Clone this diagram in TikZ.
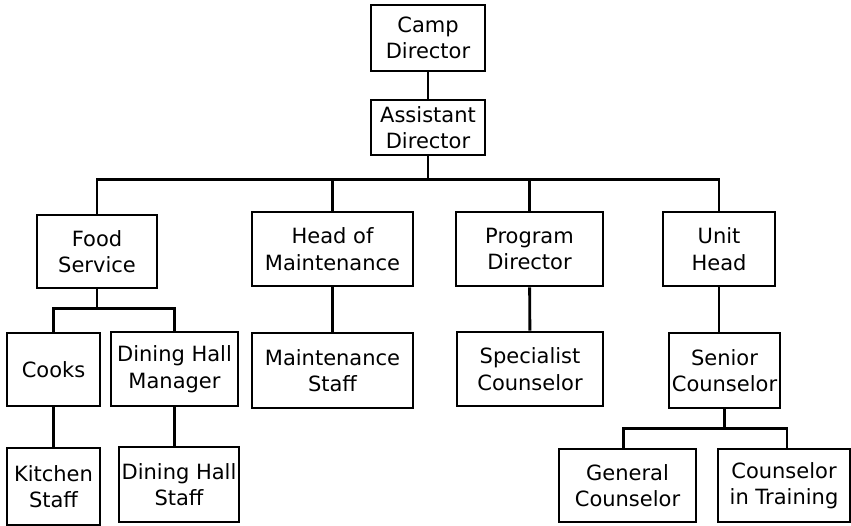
\documentclass[tikz,border=0pt]{standalone}
\usepackage{fontspec}
\setmainfont{DejaVu Sans}
\usepackage{tikz}
\usetikzlibrary{positioning,calc}

\begin{document}
\begin{tikzpicture}[x=1pt,y=-1pt,orgbox/.style={draw,line width=2.9pt,align=center,inner sep=0pt,font=\fontsize{21}{26.5}\selectfont},link/.style={line width=2.9pt}]
\useasboundingbox (0,0) rectangle (851,526);
% top of the tree
\node[orgbox,minimum width=114,minimum height=66] (camp) at (428,38) {Camp\\Director};
\node[orgbox,minimum width=114,minimum height=55] (asst) at (428,127.5) {Assistant\\Director};
% second level
\node[orgbox,minimum width=120,minimum height=73] (food) at (97,251.5) {Food\\Service};
\node[orgbox,minimum width=161,minimum height=74] (maint) at (332.5,249) {Head of\\Maintenance};
\node[orgbox,minimum width=147,minimum height=74] (prog) at (529.5,249) {Program\\Director};
\node[orgbox,minimum width=112,minimum height=74] (unit) at (719,249) {Unit\\Head};
% third level
\node[orgbox,minimum width=93,minimum height=73] (cooks) at (53.5,369.5) {Cooks};
\node[orgbox,minimum width=127,minimum height=74] (dhmgr) at (174.5,369) {Dining Hall\\Manager};
\node[orgbox,minimum width=161,minimum height=75] (mstaff) at (332.5,370.5) {Maintenance\\Staff};
\node[orgbox,minimum width=146,minimum height=74] (spec) at (530,369) {Specialist\\Counselor};
\node[orgbox,minimum width=111,minimum height=75] (senior) at (724.5,370.5) {Senior\\Counselor};
% bottom level
\node[orgbox,minimum width=93,minimum height=77] (kitchen) at (53.5,486.5) {Kitchen\\Staff};
\node[orgbox,minimum width=120,minimum height=75] (dhstaff) at (179,484.5) {Dining Hall\\Staff};
\node[orgbox,minimum width=137,minimum height=73] (general) at (627.5,485.5) {General\\Counselor};
\node[orgbox,minimum width=132,minimum height=73] (cit) at (784,485.5) {Counselor\\in Training};
% connectors
\coordinate (mainbar) at ($(asst.south)+(0,23)$);
\coordinate (foodbar) at ($(food.south)+(0,19)$);
\coordinate (seniorbar) at ($(senior.south)+(0,19)$);
\draw[link] (camp)--(asst);
\draw[link] (asst.south)--(mainbar);
\draw[link] (food.north) |- (mainbar) -| (unit.north);
\draw[link] (maint.north)--(maint.north |- mainbar);
\draw[link] (prog.north)--(prog.north |- mainbar);
\draw[link] (food.south)--(foodbar);
\draw[link] (cooks.north) |- (foodbar) -| (dhmgr.north);
\draw[link] (cooks)--(kitchen);
\draw[link] (dhmgr)--(dhmgr |- dhstaff.north);
\draw[link] (maint)--(mstaff);
\draw[link] (prog)--(spec);
\draw[link] (unit)--(unit |- senior.north);
\draw[link] (senior.south)--(seniorbar);
\draw[link] ([xshift=-4]general.north) |- (seniorbar) -| ([xshift=3]cit.north);
\end{tikzpicture}
\end{document}
